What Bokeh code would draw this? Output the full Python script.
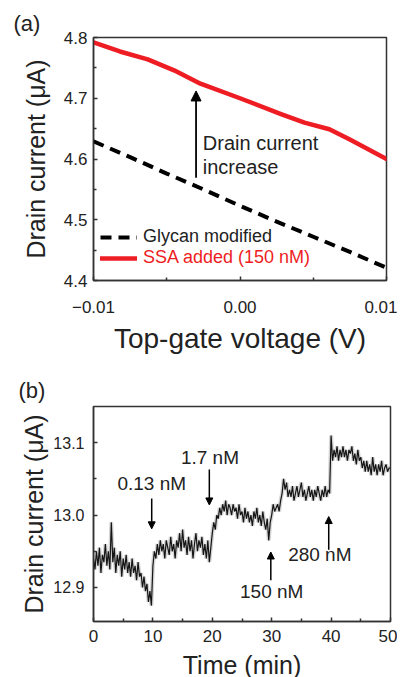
from bokeh.plotting import figure
from bokeh.layouts import column
from bokeh.models import (FixedTicker, Arrow, NormalHead, Legend, LegendItem,
                          ColumnDataSource, Range1d)
from bokeh.core.properties import value
from bokeh.embed import file_html
from bokeh.resources import INLINE

FONT = "Liberation Sans"
INK = "#222222"
FRAME = "#333333"
RED = "#ee1d23"

# ---------------- Panel (a) data ----------------
gate_v_glycan = [-0.01, -0.0075, -0.005, -0.0025, 0.0, 0.0025, 0.005, 0.0075, 0.01]
drain_i_glycan = [4.629, 4.603, 4.576, 4.550, 4.523, 4.497, 4.472, 4.447, 4.421]
gate_v_ssa = [-0.01, -0.0082, -0.0063, -0.0045, -0.0027, 0.0, 0.0028, 0.0044, 0.0061, 0.0075, 0.01]
drain_i_ssa = [4.792, 4.777, 4.764, 4.746, 4.724, 4.700, 4.674, 4.660, 4.649, 4.632, 4.600]
a_xticks = [-0.01, 0.0, 0.01]
a_xtick_labels = ["\u22120.01", "0.00", "0.01"]
a_xminor = [-0.005, 0.005]
a_yticks = [4.4, 4.5, 4.6, 4.7, 4.8]
a_ytick_labels = ["4.4", "4.5", "4.6", "4.7", "4.8"]
a_yminor = [4.45, 4.55, 4.65, 4.75]
a_legend_labels = ["Glycan modified", "SSA added (150 nM)"]
a_note_lines = ["Drain current", "increase"]
a_note_x = [-0.00254, -0.00254]
a_note_y = [4.627, 4.587]
a_arrow_x = [-0.0030]
a_arrow_from = [4.569]
a_arrow_to = [4.712]

# ---------------- Panel (b) data ----------------
time_step_min = 0.25
drain_i_time = [
    12.940, 12.925, 12.950, 12.930,
    12.955, 12.920, 12.945, 12.935,
    12.960, 12.930, 12.950, 12.925,
    12.990, 12.935, 12.955, 12.920,
    12.945, 12.930, 12.950, 12.915,
    12.940, 12.925, 12.945, 12.920,
    12.935, 12.915, 12.940, 12.920,
    12.930, 12.910, 12.935, 12.915,
    12.920, 12.900, 12.915, 12.895,
    12.905, 12.880, 12.895, 12.875,
    12.930, 12.950, 12.940, 12.960,
    12.945, 12.965, 12.950, 12.960,
    12.940, 12.965, 12.955, 12.945,
    12.970, 12.950, 12.960, 12.940,
    12.965, 12.955, 12.975, 12.950,
    12.980, 12.955, 12.965, 12.945,
    12.970, 12.950, 12.965, 12.940,
    12.960, 12.975, 12.950, 12.965,
    12.955, 12.970, 12.945, 12.960,
    12.940, 12.965, 12.935, 12.955,
    12.975, 12.990, 12.980, 13.000,
    12.995, 13.010, 13.000, 13.015,
    13.005, 13.020, 13.000, 13.015,
    13.010, 13.000, 13.015, 13.005,
    13.010, 12.995, 13.015, 13.000,
    13.005, 12.990, 13.010, 12.995,
    13.005, 12.990, 13.000, 12.985,
    13.005, 12.995, 13.010, 12.990,
    13.000, 12.985, 13.005, 12.990,
    12.980, 12.995, 12.965, 12.990,
    13.000, 13.015, 13.005, 13.010,
    13.015, 13.005, 13.020, 13.030,
    13.050, 13.035, 13.045, 13.025,
    13.035, 13.025, 13.040, 13.020,
    13.030, 13.040, 13.025, 13.035,
    13.045, 13.025, 13.035, 13.020,
    13.030, 13.040, 13.025, 13.035,
    13.020, 13.035, 13.025, 13.040,
    13.030, 13.020, 13.035, 13.025,
    13.040, 13.025, 13.035, 13.030,
    13.110, 13.075, 13.090, 13.080,
    13.095, 13.075, 13.090, 13.080,
    13.095, 13.080, 13.090, 13.075,
    13.090, 13.085, 13.095, 13.075,
    13.085, 13.070, 13.090, 13.075,
    13.080, 13.065, 13.075, 13.060,
    13.075, 13.060, 13.070, 13.055,
    13.080, 13.060, 13.070, 13.055,
    13.070, 13.060, 13.075, 13.055,
    13.065, 13.070, 13.060, 13.065,
    13.065,
]
time_min = [i * time_step_min for i in range(len(drain_i_time))]
b_xticks = [0, 10, 20, 30, 40, 50]
b_xminor = [5, 15, 25, 35, 45]
b_yticks = [12.9, 13.0, 13.1]
b_ytick_labels = ["12.9", "13.0", "13.1"]
b_yminor = [12.95, 13.05]
b_yrange = [12.853, 13.15]
b_conc_labels = ["0.13 nM", "1.7 nM", "150 nM", "280 nM"]
b_label_t = [9.8, 19.6, 30.0, 38.1]
b_label_i = [13.044, 13.080, 12.894, 12.945]
b_arrow_t = [9.8, 19.5, 29.85, 39.6]
b_arrow_from = [13.023, 13.063, 12.910, 12.952]
b_arrow_to = [12.981, 13.014, 12.949, 12.998]


def style_axes(p, tick_size_x, tick_size_y, label_size_x, label_size_y):
    p.xgrid.grid_line_color = None
    p.ygrid.grid_line_color = None
    p.outline_line_color = FRAME
    p.outline_line_width = 1.5
    p.outline_line_alpha = 1.0
    p.background_fill_color = "white"
    p.border_fill_color = "white"
    for ax in (p.xaxis[0], p.yaxis[0]):
        ax.axis_line_color = FRAME
        ax.axis_line_width = 1.5
        ax.major_tick_line_color = FRAME
        ax.minor_tick_line_color = FRAME
        ax.major_tick_line_width = 1.5
        ax.minor_tick_line_width = 1.5
        ax.major_tick_in = 4
        ax.major_tick_out = 0
        ax.minor_tick_in = 3
        ax.minor_tick_out = 0
        ax.major_label_text_font = FONT
        ax.major_label_text_color = INK
        ax.axis_label_text_font = FONT
        ax.axis_label_text_color = INK
        ax.axis_label_text_font_style = "normal"
    p.xaxis[0].major_label_text_font_size = tick_size_x
    p.yaxis[0].major_label_text_font_size = tick_size_y
    p.xaxis[0].axis_label_text_font_size = label_size_x
    p.yaxis[0].axis_label_text_font_size = label_size_y


def panel_tag(p, text, offset, standoff):
    p.title.text = text
    p.title.align = "left"
    p.title.offset = offset
    p.title.standoff = standoff
    p.title.text_font = FONT
    p.title.text_font_size = "22px"
    p.title.text_font_style = "normal"
    p.title.text_color = INK


# ---------------- Figure (a) ----------------
pa = figure(frame_width=293, frame_height=243,
            min_border_left=93, min_border_right=11, min_border_top=37, min_border_bottom=71,
            x_range=Range1d(a_xticks[0], a_xticks[-1]),
            y_range=Range1d(a_yticks[0], a_yticks[-1]),
            output_backend="svg", toolbar_location=None)
style_axes(pa, "17px", "17px", "28px", "25px")
panel_tag(pa, "(a)", -80, 3)
pa.xaxis[0].ticker = FixedTicker(ticks=a_xticks, minor_ticks=a_xminor)
pa.yaxis[0].ticker = FixedTicker(ticks=a_yticks, minor_ticks=a_yminor)
pa.xaxis[0].major_label_overrides = {t: l for t, l in zip(a_xticks, a_xtick_labels)}
pa.yaxis[0].major_label_overrides = {t: l for t, l in zip(a_yticks, a_ytick_labels)}
pa.xaxis[0].axis_label = "Top-gate voltage (V)"
pa.yaxis[0].axis_label = "Drain current (\u03bcA)"
pa.xaxis[0].major_label_standoff = 20
pa.xaxis[0].axis_label_standoff = 7
pa.yaxis[0].major_label_standoff = 6
pa.yaxis[0].axis_label_standoff = 11

r_gly = pa.line(gate_v_glycan, drain_i_glycan, line_color="black", line_width=4,
                line_dash="11 7")
r_ssa = pa.line(gate_v_ssa, drain_i_ssa, line_color=RED, line_width=4.5, line_cap="round",
                line_join="round")

pa.add_layout(Arrow(end=NormalHead(size=10, fill_color="black", line_color="black"),
                    x_start=a_arrow_x[0], y_start=a_arrow_from[0],
                    x_end=a_arrow_x[0], y_end=a_arrow_to[0],
                    line_color="black", line_width=1.8))
pa.text(x=a_note_x, y=a_note_y, text=a_note_lines, text_font=value(FONT),
        text_font_size="20px", text_color=INK, text_align="left", text_baseline="middle")

for renderer, label, color, ypos in ((r_gly, a_legend_labels[0], INK, 33),
                                     (r_ssa, a_legend_labels[1], RED, 12)):
    lg = Legend(items=[LegendItem(label=label, renderers=[renderer])],
                location=(7, ypos), padding=0, margin=0, spacing=0,
                glyph_width=37, glyph_height=20, label_height=20, label_standoff=6,
                label_text_font=FONT, label_text_font_size="18px", label_text_color=color,
                border_line_color=None, background_fill_alpha=0)
    pa.add_layout(lg)

# ---------------- Figure (b) ----------------
pb = figure(frame_width=297, frame_height=215,
            min_border_left=92, min_border_right=8, min_border_top=50, min_border_bottom=53,
            x_range=Range1d(b_xticks[0], b_xticks[-1]),
            y_range=Range1d(b_yrange[0], b_yrange[1]),
            output_backend="svg", toolbar_location=None)
style_axes(pb, "17px", "16px", "25px", "25px")
panel_tag(pb, "(b)", -75, 7)
pb.xaxis[0].ticker = FixedTicker(ticks=b_xticks, minor_ticks=b_xminor)
pb.yaxis[0].ticker = FixedTicker(ticks=b_yticks, minor_ticks=b_yminor)
pb.yaxis[0].major_label_overrides = {t: l for t, l in zip(b_yticks, b_ytick_labels)}
pb.xaxis[0].axis_label = "Time (min)"
pb.yaxis[0].axis_label = "Drain current (\u03bcA)"
pb.xaxis[0].major_label_standoff = 8
pb.xaxis[0].axis_label_standoff = 6
pb.yaxis[0].major_label_standoff = 9
pb.yaxis[0].axis_label_standoff = 2

pb.line(time_min, drain_i_time, line_color="#888888", line_width=4, line_alpha=0.35)
pb.line(time_min, drain_i_time, line_color="black", line_width=1.2, line_alpha=0.9)

arr_src = ColumnDataSource(dict(t=b_arrow_t, y0=b_arrow_from, y1=b_arrow_to))
pb.add_layout(Arrow(end=NormalHead(size=7, fill_color="black", line_color="black"),
                    x_start="t", y_start="y0", x_end="t", y_end="y1", source=arr_src,
                    line_color="black", line_width=1.5))
pb.text(x=b_label_t, y=b_label_i, text=b_conc_labels, text_font=value(FONT),
        text_font_size="19px", text_color=INK, text_align="center", text_baseline="middle")

layout = column(pa, pb)
open("out.html", "w").write(file_html(layout, INLINE))
